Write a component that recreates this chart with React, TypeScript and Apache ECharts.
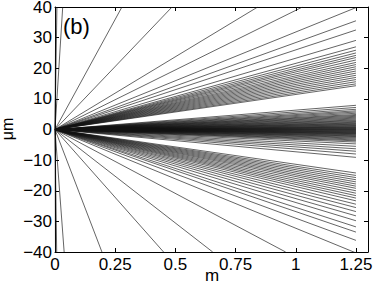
import React, { useEffect, useRef } from "react";
import * as echarts from "echarts";

// x positions (m) where steep rays leave the plot through the top border (y = 40 µm)
const topExits: number[] = [0.003, 0.008, 0.032, 0.278, 0.486, 0.842, 1.028];
// x positions (m) where steep rays leave the plot through the bottom border (y = -40 µm)
const bottomExits: number[] = [0.002, 0.007, 0.038, 0.195, 0.451, 0.655, 0.958];
// y values (µm) at x = 1.25 m, upper fan
const upperEnds: number[] = [
  39.8, 35.5, 32.5, 29.1, 27.0, 25.9, 25.0, 24.2, 23.5, 22.7, 21.9, 21.2, 20.5,
  19.8, 19.1, 18.4, 17.7, 17.0, 16.3, 15.6, 14.9, 14.3,
];
// y values (µm) at x = 1.25 m, central dense fan
const centralEnds: number[] = [
  7.9, 7.2, 6.6, 6.1, 5.7, 5.3, 4.9, 4.6, 4.3, 4.0, 3.7, 3.4, 3.1, 2.85, 2.6,
  2.35, 2.1, 1.9, 1.7, 1.5, 1.3, 1.1, 0.9, 0.75, 0.6, 0.45, 0.3, 0.15, 0.0,
  -0.15, -0.3, -0.45, -0.6, -0.75, -0.9, -1.05, -1.2, -1.35, -1.5, -1.7, -1.9,
  -2.1, -2.3, -2.55, -2.8, -3.1, -3.4, -3.7, -4.1, -4.7, -5.5, -6.3, -7.1,
  -8.0, -9.1,
];
// y values (µm) at x = 1.25 m, lower fan
const lowerEnds: number[] = [
  -14.2, -15.0, -15.7, -16.4, -17.1, -17.8, -18.5, -19.2, -20.0, -20.8, -21.6,
  -22.4, -23.3, -24.4, -25.5, -26.8, -28.2, -29.8, -31.8, -33.5, -36.2, -40.3,
];

const xEnd = 1.25;
const yTop = 40;
const yBottom = -40;

const FONT = "'Liberation Sans', Arial, Helvetica, sans-serif";

export default function App() {
  const ref = useRef<HTMLDivElement>(null);

  useEffect(() => {
    if (!ref.current) return;
    const chart = echarts.init(ref.current, undefined, { renderer: "svg" });

    const rays: number[][][] = [];
    topExits.forEach((x) => rays.push([[0, 0], [x, yTop]]));
    bottomExits.forEach((x) => rays.push([[0, 0], [x, yBottom]]));
    [...upperEnds, ...centralEnds, ...lowerEnds].forEach((y) =>
      rays.push([[0, 0], [xEnd, y]])
    );

    const lineStyle = { color: "#111", width: 0.65 };

    const series = rays.map((d) => ({
      type: "line",
      data: d,
      symbol: "none",
      silent: true,
      clip: true,
      lineStyle,
      xAxisIndex: 0,
      yAxisIndex: 0,
    }));

    const axisLine = { show: true, onZero: false, lineStyle: { color: "#000", width: 1 } };
    const axisTick = { show: true, inside: true, length: 4, lineStyle: { color: "#000" } };
    const labelBase = { color: "#000", fontSize: 17, fontFamily: FONT };

    chart.setOption({
      animation: false,
      backgroundColor: "#fff",
      grid: {
        left: 55,
        right: 6,
        top: 7,
        bottom: 38,
        containLabel: false,
        outerBoundsMode: "none",
      },
      xAxis: [
        {
          type: "value",
          position: "bottom",
          min: 0,
          max: 1.3,
          interval: 0.25,
          axisLine,
          axisTick,
          splitLine: { show: false },
          axisLabel: { ...labelBase, margin: 4, showMaxLabel: false },
        },
        {
          type: "value",
          position: "top",
          min: 0,
          max: 1.3,
          interval: 0.25,
          axisLine,
          axisTick,
          splitLine: { show: false },
          axisLabel: { show: false },
        },
      ],
      yAxis: [
        {
          type: "value",
          position: "left",
          min: -40,
          max: 40,
          interval: 10,
          axisLine,
          axisTick,
          splitLine: { show: false },
          axisLabel: {
            ...labelBase,
            margin: 3,
            formatter: (v: number) => (v < 0 ? "\u2212" + Math.abs(v) : String(v)),
          },
        },
        {
          type: "value",
          position: "right",
          min: -40,
          max: 40,
          interval: 10,
          axisLine,
          axisTick,
          splitLine: { show: false },
          axisLabel: { show: false },
        },
      ],
      graphic: [
        {
          type: "text",
          left: 63,
          top: 15,
          style: { text: "(b)", fontSize: 22, fontFamily: FONT, fill: "#000" },
        },
        {
          type: "text",
          x: 212,
          y: 275,
          style: {
            text: "m",
            fontSize: 17,
            fontFamily: FONT,
            fill: "#000",
            align: "center",
            verticalAlign: "middle",
          },
        },
        {
          type: "text",
          x: 7,
          y: 129,
          rotation: Math.PI / 2,
          style: {
            text: "\u03bcm",
            fontSize: 16,
            fontFamily: FONT,
            fill: "#000",
            align: "center",
            verticalAlign: "middle",
          },
        },
      ],
      series,
    });

    return () => chart.dispose();
  }, []);

  return (
    <div
      ref={ref}
      style={{ position: "fixed", left: 0, top: 0, width: 374, height: 290 }}
    />
  );
}
